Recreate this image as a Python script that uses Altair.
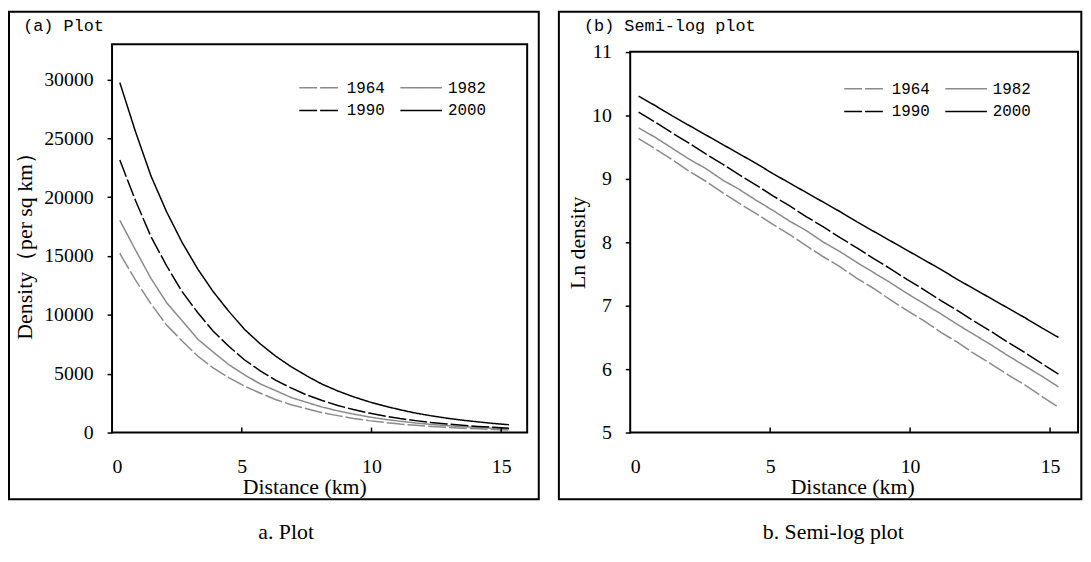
import altair as alt
import pandas as pd

# ---------------- data ----------------
distance_km = [0.3, 0.9, 1.5, 2.1, 2.7, 3.3, 3.9, 4.5, 5.1, 5.7, 6.3, 6.9, 7.5,
               8.1, 8.7, 9.3, 9.9, 10.5, 11.1, 11.7, 12.3, 12.9, 13.5, 14.1, 14.7, 15.3]
years = ["1964", "1982", "1990", "2000"]
ln_1964 = [9.63, 9.47, 9.30, 9.12, 8.96, 8.78, 8.61, 8.45, 8.28, 8.12, 7.94, 7.77, 7.61,
           7.43, 7.27, 7.09, 6.92, 6.76, 6.58, 6.42, 6.24, 6.08, 5.91, 5.75, 5.57, 5.40]
ln_1982 = [9.80, 9.65, 9.48, 9.31, 9.16, 8.98, 8.83, 8.66, 8.50, 8.33, 8.18, 8.00, 7.85,
           7.68, 7.52, 7.36, 7.19, 7.03, 6.87, 6.70, 6.54, 6.38, 6.21, 6.05, 5.89, 5.72]
ln_1990 = [10.05, 9.89, 9.72, 9.56, 9.39, 9.23, 9.06, 8.90, 8.73, 8.57, 8.40, 8.24, 8.07,
           7.91, 7.74, 7.58, 7.41, 7.25, 7.08, 6.92, 6.75, 6.59, 6.42, 6.26, 6.09, 5.92]
ln_2000 = [10.30, 10.15, 9.99, 9.84, 9.69, 9.54, 9.39, 9.24, 9.08, 8.93, 8.78, 8.63, 8.48,
           8.32, 8.17, 8.02, 7.87, 7.72, 7.57, 7.41, 7.26, 7.11, 6.96, 6.81, 6.65, 6.50]

x_tick_values = [0, 5, 10, 15]
x_inner_ticks = [5, 10, 15]
density_ticks = [0, 5000, 10000, 15000, 20000, 25000, 30000]
ln_ticks = [5, 6, 7, 8, 9, 10, 11]

line_colors = ["#8a8a8a", "#8a8a8a", "#000000", "#000000"]
line_dashes = [[18, 3], [1, 0], [18, 3], [1, 0]]

series = {"1964": ln_1964, "1982": ln_1982, "1990": ln_1990, "2000": ln_2000}
rows = []
for yr in years:
    for d, v in zip(distance_km, series[yr]):
        rows.append({"x": d, "year": yr, "ln": v})
df = pd.DataFrame(rows)
one = pd.DataFrame({"k": [0]})
tick_df = pd.DataFrame({"x": x_inner_ticks})

SERIF = "Liberation Serif"
MONO = "Liberation Mono"


def panel(ycol, ydomain, yticks, frame_top, ytitle, ytx, yty, xtx, W, H,
          box, title, tx, caption, cx, lx, ly, calc):
    xscale = alt.Scale(domain=[0, 16], nice=False, zero=False)
    yscale = alt.Scale(domain=ydomain, nice=False, zero=False)
    xaxis = alt.Axis(values=x_tick_values, ticks=False, domain=False, grid=False,
                     labelPadding=24, labelFont=SERIF, labelFontSize=20,
                     labelColor="black", format="d", title="Distance (km)", titleFont=SERIF,
                     titleFontSize=22, titleFontWeight="normal", titleColor="black",
                     titleX=xtx, titleY=55, titleBaseline="middle", titleAlign="center")
    yaxis = alt.Axis(values=yticks, ticks=True, tickSize=5, tickWidth=1.5,
                     tickColor="black", domain=False, grid=False, labelPadding=14,
                     labelFont=SERIF, labelFontSize=20, labelColor="black",
                     labelBaseline="middle", format="d",
                     title=ytitle, titleFont=SERIF, titleFontSize=22,
                     titleFontWeight="normal", titleColor="black", titleAngle=270,
                     titleX=ytx, titleY=yty, titleBaseline="middle", titleAlign="center")
    leg = alt.Legend(orient="none", legendX=lx, legendY=ly, columns=2, title=None,
                     direction="horizontal", clipHeight=16,
                     symbolType="stroke", symbolSize=1764, symbolStrokeWidth=1.5,
                     labelFont=MONO, labelFontSize=16, labelColor="black",
                     labelOffset=5, columnPadding=14, rowPadding=7, padding=0)

    base = alt.Chart(df)
    if calc:
        base = base.transform_calculate(density="exp(datum.ln)")
    lines = base.mark_line(strokeWidth=1.5).encode(
        x=alt.X("x:Q", scale=xscale, axis=xaxis),
        y=alt.Y(f"{ycol}:Q", scale=yscale, axis=yaxis),
        color=alt.Color("year:N", scale=alt.Scale(domain=years, range=line_colors), legend=leg),
        strokeDash=alt.StrokeDash("year:N", scale=alt.Scale(domain=years, range=line_dashes), legend=leg),
    )
    frame = alt.Chart(one).mark_rect(fillOpacity=0, stroke="black", strokeWidth=2).encode(
        x=alt.datum(0), x2=alt.datum(16), y=alt.datum(ydomain[0]), y2=alt.datum(frame_top)
    )
    ticks = alt.Chart(tick_df).mark_rule(color="black", strokeWidth=1.5).encode(
        x=alt.X("x:Q"), y=alt.value(H), y2=alt.value(H - 5)
    )
    outer = alt.Chart(one).mark_rect(fillOpacity=0, stroke="black", strokeWidth=2).encode(
        x=alt.value(box[0]), x2=alt.value(box[1]), y=alt.value(box[2]), y2=alt.value(box[3])
    )
    ttl = alt.Chart(one).mark_text(align="left", baseline="middle", font=MONO,
                                   fontSize=17, color="black").encode(
        x=alt.value(tx), y=alt.value(-18.7), text=alt.value(title)
    )
    cap = alt.Chart(one).mark_text(align="center", baseline="middle", font=SERIF,
                                   fontSize=22, color="black").encode(
        x=alt.value(cx), y=alt.value(492), text=alt.value(caption)
    )
    return alt.layer(lines, frame, ticks, outer, ttl, cap).properties(width=W, height=H)


H = 392
panel_a = panel("density", [0, 33000], density_ticks, 33000,
                "Density（per sq km）", -88, 198, 194, 419, H,
                [-104, 430.7, -32.7, 459.3], "(a) Plot", -89.7,
                "a. Plot", 175.7, 188, 36, True)
panel_b = panel("ln", [5, 11.12], ln_ticks, 11,
                "Ln density", -53, 200, 224, 452, H,
                [-72, 455.3, -32.7, 459.3], "(b) Semi-log plot", -46.7,
                "b. Semi-log plot", 205, 215, 37, False)

chart = alt.hconcat(panel_a, panel_b, spacing=18).resolve_legend(
    color="independent", strokeDash="independent"
).resolve_scale(
    color="independent", strokeDash="independent"
).properties(
    padding=0, background="white"
).configure_view(stroke=None)

chart.save("out.html", embed_options={"renderer": "svg", "actions": False})
